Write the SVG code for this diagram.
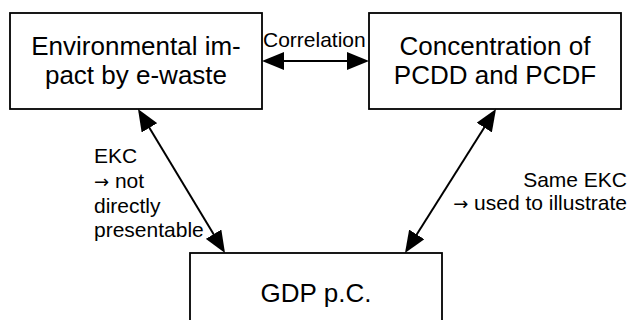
<svg xmlns="http://www.w3.org/2000/svg" width="629" height="320" viewBox="0 0 629 320">
<style>
  .box { fill: #fff; stroke: #000; stroke-width: 1.8; }
  .big { font-family: "Liberation Sans", Arial, sans-serif; font-size: 26px; fill: #000; text-anchor: middle; }
  .lbl { font-family: "Liberation Sans", Arial, sans-serif; font-size: 21px; fill: #000; }
  .arr { font-family: "DejaVu Sans", sans-serif; font-size: 18px; }
  .con { stroke: #000; stroke-width: 2; fill: none; marker-start: url(#ah); marker-end: url(#ah); }
</style>
<defs>
  <marker id="ah" markerUnits="userSpaceOnUse" viewBox="0 0 22 18" markerWidth="22" markerHeight="18" refX="19" refY="9" orient="auto-start-reverse">
    <path d="M0,0 L22,9 L0,18 Z" fill="#000"/>
  </marker>
</defs>
<rect width="629" height="320" fill="#fff"/>
<g id="env">
  <rect class="box" x="10" y="13" width="252" height="96"/>
  <text class="big" x="136" y="55">Environmental im-</text>
  <text class="big" x="136" y="83.5">pact by e-waste</text>
</g>
<g id="pcdd">
  <rect class="box" x="369" y="13" width="252" height="96"/>
  <text class="big" x="495" y="55">Concentration of</text>
  <text class="big" x="495" y="83.5">PCDD and PCDF</text>
</g>
<g id="gdp">
  <rect class="box" x="190" y="253" width="252" height="96"/>
  <text class="big" x="316" y="301.5">GDP p.C.</text>
</g>
<g id="connectors">
  <line class="con" x1="265" y1="61" x2="366" y2="61"/>
  <line class="con" x1="139.55" y1="111.57" x2="223.45" y2="250.43"/>
  <line class="con" x1="494.4" y1="111.5" x2="406.6" y2="250.5"/>
  <text class="lbl" x="263" y="46.7">Correlation</text>
  <text class="lbl" x="94"><tspan x="94" y="162.7">EKC</tspan><tspan x="94" y="188.3"><tspan class="arr">→</tspan> not</tspan><tspan x="94" y="212.5">directly</tspan><tspan x="94" y="236.7">presentable</tspan></text>
  <text class="lbl" text-anchor="end"><tspan x="627" y="187">Same EKC</tspan><tspan x="627" y="210"><tspan class="arr">→</tspan> used to illustrate</tspan></text>
</g>
</svg>
